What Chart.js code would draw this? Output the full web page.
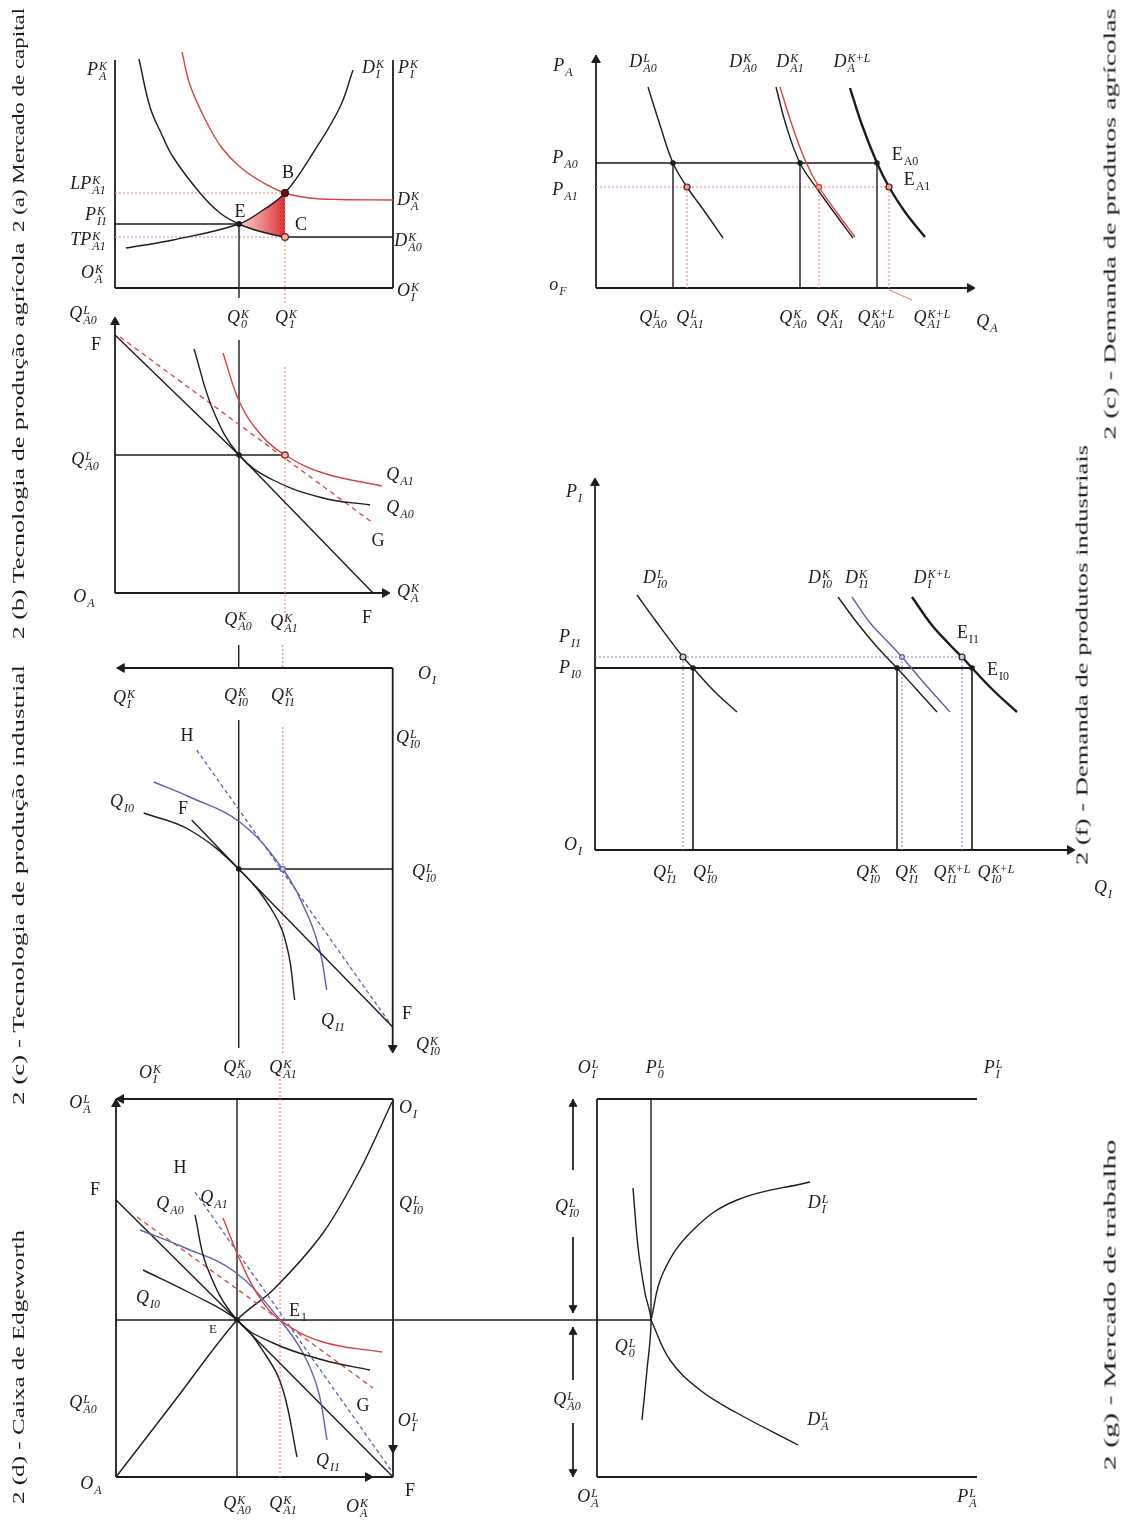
<!DOCTYPE html>
<html>
<head>
<meta charset="utf-8">
<script src="https://cdn.jsdelivr.net/npm/chart.js@4.4.1/dist/chart.umd.min.js"></script>
<style>
html, body { margin: 0; padding: 0; background: #fff; }
#page { position: relative; width: 1136px; height: 1521px; overflow: hidden; font-family: "Liberation Serif", "DejaVu Serif", serif; color: #1c1c1c; }
#page canvas { position: absolute; left: 0; top: 0; }
.lb { position: absolute; transform: translate(-50%, -50%); white-space: nowrap; font-size: 18px; line-height: 1; font-style: italic; }
.lb.r { font-style: normal; }
.ss { display: inline-flex; flex-direction: column; font-size: 12px; line-height: 10px; vertical-align: middle; margin-left: 1px; }
.side { position: absolute; white-space: nowrap; font-size: 17px; line-height: 1; }
</style>
</head>
<body>
<div id="page"></div>
<script>
// 2(a) capital market  (units: Q^K across, P^K up)
const capAxis = [27.8, 22.8];
const capA0 = [[2.4,22.9],[3.5,18.1],[4.7,15.3],[5.8,13.1],[8.5,9.5],[10.5,7.5],[12.4,6.4],[14.0,5.8],[15.5,5.4],[17.0,5.1]];
const capA0flat = [[17.0,5.1],[27.8,5.1]];
const capA1 = [[6.7,23.6],[7.5,20.3],[9.2,16.5],[10.7,14.0],[12.5,12.1],[14.7,10.6],[17.0,9.5],[19.5,9.0],[22.5,8.85],[27.8,8.8]];
const capI = [[1.1,4.0],[5.8,4.8],[12.4,6.4],[14.8,7.8],[17.0,9.5],[19.8,13.5],[22.5,18.1],[23.8,21.8]];
const capE = [12.4,6.4], capB = [17.0,9.5], capC = [17.0,5.1];

// 2(b) agricultural technology
const agrAxis = [27.5, 27.5];
const agrF = [[0,25.8],[12.4,13.8],[25.8,0]];
const agrG = [[0.5,25.6],[25.8,7.0]];
const agrQ0 = [[7.9,24.4],[9.8,18.3],[12.4,13.8],[15.8,11.3],[20.8,9.5],[25.5,8.8]];
const agrQ1 = [[10.8,24.0],[12.5,19.0],[14.7,15.7],[17.0,13.8],[20.8,12.0],[26.7,10.7]];
const agrE0 = [12.4,13.8], agrE1 = [17.0,13.8];

// 2(c) demand for agricultural products
const adAxis = [37.9, 23.3];
const adDL0 = [[5.2,20.1],[6.4,16.3],[7.7,12.5],[9.1,10.1],[10.9,7.6],[12.7,5.0]];
const adDK0 = [[18.0,20.1],[19.0,16.3],[20.4,12.5],[22.2,9.8],[24.0,7.3],[25.7,5.0]];
const adDK1 = [[18.4,20.1],[19.6,16.3],[20.9,12.8],[22.3,10.1],[24.2,7.4],[25.9,5.1]];
const adDKL = [[25.4,20.0],[26.6,16.3],[28.1,12.5],[29.3,10.1],[30.9,7.6],[32.9,5.1]];
const adP0 = 12.5, adP1 = 10.1;
const adQ0 = [7.7, 20.4, 28.1], adQ1 = [9.1, 22.3, 29.3];

// 2(f) demand for industrial products
const idAxis = [48, 37.2];
const idDL0 = [[4.2,25.5],[6.0,23.0],[8.8,19.3],[9.8,18.2],[12.0,15.8],[14.2,13.8]];
const idDK0 = [[24.3,25.3],[26.3,22.6],[28.3,20.2],[30.2,18.2],[32.2,16.0],[34.2,13.8]];
const idDK1 = [[25.7,25.3],[27.6,22.6],[29.5,20.6],[30.7,19.3],[33.0,16.6],[35.5,13.8]];
const idDKL = [[31.7,25.3],[33.6,22.6],[35.5,20.5],[36.7,19.3],[37.7,18.2],[39.9,15.9],[42.2,13.8]];
const idP0 = 18.2, idP1 = 19.3;
const idQ0 = [9.8, 30.2, 37.7], idQ1 = [8.8, 30.7, 36.7];

// 2(c) industrial technology (origin O_I top right, axes reversed)
const indAxis = [27.6, 38.5];
const indF = [[20.1,15.2],[15.4,20.1],[0,35.9]];
const indH = [[19.6,8.2],[0.3,35.5]];
const indQ0 = [[24.9,14.5],[20.3,16.2],[15.4,20.1],[11.9,24.5],[10.5,28.2],[9.8,33.2]];
const indQ1 = [[23.9,11.4],[20.3,12.9],[15.3,15.4],[11.0,20.1],[8.6,24.5],[7.3,28.2],[6.6,32.2]];
const indE0 = [15.4,20.1], indE1 = [11.0,20.1];

// 2(d) Edgeworth box
const edgAxis = [27.7, 37.8];
const edgContract = [[0,0],[5.7,7.4],[12.1,15.7],[15.7,18.7],[20.7,24.4],[24.4,30.7],[27.6,37.5]];
const edgF = [[0,27.7],[12.1,15.7],[27.7,0]];
const edgG = [[2.1,26.0],[16.4,15.7],[25.7,8.9]];
const edgH = [[7.9,28.5],[27.7,0.4]];
const edgQI1 = [[2.4,24.7],[6.7,23.0],[11.9,20.5],[16.4,15.7],[18.7,12.4],[20.2,8.7],[21.1,3.7]];
const edgQI0 = [[2.7,20.7],[7.4,18.4],[12.1,15.7],[15.1,12.0],[16.7,8.7],[18.1,2.0]];
const edgQA0 = [[7.9,26.2],[9.1,21.0],[12.1,15.7],[15.7,13.4],[20.7,11.7],[25.4,10.7]];
const edgQA1 = [[10.7,25.9],[12.4,21.7],[14.2,18.2],[16.4,15.7],[20.7,13.5],[26.6,12.5]];
const edgE = [12.1,15.7], edgE1 = [16.4,15.7];

// 2(g) labour market
const labAxis = [38, 37.8];
const labDI = [[5.4,15.7],[6.6,20.4],[9.6,24.7],[14.0,27.7],[21.3,29.5]];
const labDA = [[5.4,15.7],[7.3,11.7],[10.3,8.7],[14.0,6.4],[20.1,3.2]];
const labS = [[3.6,28.9],[4.1,23.0],[4.8,18.4],[5.4,15.7],[5.0,10.7],[4.5,5.7]];
const labE = [5.4,15.7];
const labArrowX = -2.4;
const labArrowSegs = [[37.8,30.7],[24.0,16.4],[15.0,9.7],[5.4,0]];
const labArrowHeads = [[37.3,0],[16.9,180],[14.5,0],[0.5,180]];

const W = 1136, H = 1521;
const BLACK = '#1c1c1c', RED = '#d9423c', RED_DOT = '#ee8478', BLUE = '#5a62b3', BLUE_DOT = '#7d84cc';
const page = document.getElementById('page');
const P = a => a.map(([x, y]) => ({x, y}));

function ln(pts, o) {
  return Object.assign({data: P(pts), showLine: true, borderColor: BLACK, borderWidth: 1.4,
    pointRadius: 0, tension: 0.4, fill: false, clip: false}, o || {});
}
function seg(a, b, o) { return ln([a, b], Object.assign({tension: 0}, o || {})); }
const redDot = {borderColor: RED_DOT, borderWidth: 1.1, borderDash: [2, 2]};
const blueDot = {borderColor: BLUE_DOT, borderWidth: 1.1, borderDash: [2, 2]};
const axisStyle = {borderWidth: 1.8};
function arrow(pt, rot, r) {
  return {data: P([pt]), showLine: false, pointStyle: 'triangle', rotation: rot, pointRadius: r || 5,
    pointBackgroundColor: BLACK, pointBorderColor: BLACK, pointBorderWidth: 1, clip: false};
}
function dot(pt, fillC, lineC, r) {
  return {data: P([pt]), showLine: false, pointRadius: r || 2.6, pointBackgroundColor: fillC || BLACK,
    pointBorderColor: lineC || BLACK, pointBorderWidth: 1.2, clip: false};
}

function panel(box, xr, yr, list, rx, ry) {
  const cv = document.createElement('canvas');
  cv.width = W; cv.height = H;
  page.appendChild(cv);
  list.forEach((d, i) => { d.order = -i; });
  new Chart(cv, {
    type: 'line',
    data: {datasets: list},
    options: {
      responsive: false, animation: false, events: [],
      layout: {padding: {left: box[0], top: box[1], right: W - box[2], bottom: H - box[3]}},
      scales: {
        x: {type: 'linear', display: false, min: xr[0], max: xr[1], reverse: !!rx},
        y: {type: 'linear', display: false, min: yr[0], max: yr[1], reverse: !!ry}
      },
      plugins: {legend: {display: false}, tooltip: {enabled: false}}
    }
  });
}

// ---------- 2(a)
const shadeTop = capI.slice(2, 5), shadeBot = capA0.slice(6);
panel([115, 60, 393, 288], [0, capAxis[0]], [0, capAxis[1]], [
  ln(shadeTop, {borderWidth: 0, fill: 1, backgroundColor: c => {
    const ch = c.chart;
    if (!ch.chartArea) return 'rgba(220,60,60,0.7)';
    const sx = ch.scales.x;
    const g = ch.ctx.createLinearGradient(sx.getPixelForValue(shadeTop[0][0]), 0, sx.getPixelForValue(shadeTop[shadeTop.length - 1][0]), 0);
    g.addColorStop(0, 'rgba(245,185,180,0.7)');
    g.addColorStop(1, 'rgba(215,35,40,0.95)');
    return g;
  }}),
  ln(shadeBot, {borderWidth: 0}),
  seg([0, 0], [0, capAxis[1]], axisStyle),
  seg([0, 0], [capAxis[0], 0], axisStyle),
  seg([capAxis[0], 0], [capAxis[0], capAxis[1]], axisStyle),
  seg([0, capB[1]], capB, redDot),
  seg([0, capC[1]], capC, redDot),
  seg(capB, [capB[0], -1.7], redDot),
  seg([0, capE[1]], capE),
  seg(capE, [capE[0], -1.0]),
  ln(capA0), seg(capA0flat[0], capA0flat[1]),
  ln(capA1, {borderColor: RED}),
  ln(capI),
  dot(capE, BLACK, BLACK, 2.4),
  dot(capB, '#6a1512', '#3a0a08', 3.4),
  dot(capC, '#f4b4a8', '#7a1a16', 3.4)
]);

// ---------- 2(b)
panel([115, 318, 390, 593], [0, agrAxis[0]], [0, agrAxis[1]], [
  seg([0, 0], [0, 27.1], axisStyle), arrow([0, 27.1], 0),
  seg([0, 0], [27.0, 0], axisStyle), arrow([27.0, 0], 90),
  seg([agrE0[0], 25.3], [agrE0[0], 0]),
  seg([0, agrE0[1]], agrE1),
  seg([agrE1[0], 22.6], [agrE1[0], -3.0], redDot),
  ln(agrF, {tension: 0}),
  ln(agrG, {tension: 0, borderColor: RED, borderDash: [5, 4], borderWidth: 1.3}),
  ln(agrQ0), ln(agrQ1, {borderColor: RED}),
  dot(agrE0, BLACK, BLACK, 2.2),
  dot(agrE1, '#f4b4a8', '#7a1a16', 3.2)
]);

// ---------- 2(c) demand, agriculture
panel([596, 55, 975, 288], [0, adAxis[0]], [0, adAxis[1]], [
  seg([0, 0], [0, 22.8], axisStyle), arrow([0, 22.8], 0),
  seg([0, 0], [37.4, 0], axisStyle), arrow([37.4, 0], 90),
  seg([0, adP0], [adQ0[2], adP0]),
  seg([0, adP1], [adQ1[2], adP1], redDot),
  ...adQ0.map(q => seg([q, adP0], [q, 0])),
  ...adQ1.map(q => seg([q, adP1], [q, 0], redDot)),
  seg([adQ1[2], -0.2], [31.6, -1.2], {borderColor: RED_DOT, borderWidth: 1.2}),
  ln(adDL0), ln(adDK0), ln(adDK1, {borderColor: RED}),
  ln(adDKL, {borderWidth: 2.4}),
  ...adQ0.map(q => dot([q, adP0], BLACK, BLACK, 2.2)),
  dot([adQ1[0], adP1], '#e8a090', '#5a1010', 3),
  dot([adQ1[1], adP1], '#f4b4a8', RED, 2.6),
  dot([adQ1[2], adP1], '#e8a090', '#5a1010', 3)
]);

// ---------- 2(f) demand, industry
panel([595, 478, 1075, 850], [0, idAxis[0]], [0, idAxis[1]], [
  seg([0, 0], [0, 36.7], axisStyle), arrow([0, 36.7], 0),
  seg([0, 0], [47.5, 0], axisStyle), arrow([47.5, 0], 90),
  seg([0, idP1], [idQ1[2], idP1], blueDot),
  ...idQ1.map(q => seg([q, idP1], [q, 0], blueDot)),
  seg([0, idP0], [idQ0[2], idP0], {borderWidth: 1.8}),
  ...idQ0.map(q => seg([q, idP0], [q, 0], {borderWidth: 1.6})),
  ln(idDL0), ln(idDK0), ln(idDK1, {borderColor: BLUE}),
  ln(idDKL, {borderWidth: 2.4}),
  ...idQ0.map(q => dot([q, idP0], BLACK, BLACK, 2.2)),
  dot([idQ1[0], idP1], '#c8c8e0', BLACK, 3),
  dot([idQ1[1], idP1], '#c8c8e8', BLUE, 2.4),
  dot([idQ1[2], idP1], '#c8c8e0', BLACK, 3)
]);

// ---------- 2(c) industrial technology
panel([116.7, 668, 392.7, 1053], [0, indAxis[0]], [0, indAxis[1]], [
  seg([0, 0], [27.1, 0], axisStyle), arrow([27.1, 0], 270),
  seg([0, 0], [0, 38.0], axisStyle), arrow([0, 38.0], 180),
  seg([indE0[0], -2.3], [indE0[0], 0]),
  seg([indE0[0], 5.2], [indE0[0], 38.0]),
  seg([indE1[0], -2.3], [indE1[0], 0], redDot),
  seg([indE1[0], 5.9], [indE1[0], 38.5], redDot),
  seg(indE0, [0, indE0[1]]),
  ln(indH, {tension: 0, borderColor: BLUE, borderDash: [4, 3], borderWidth: 1.3}),
  ln(indQ1, {borderColor: BLUE}),
  ln(indQ0),
  ln(indF, {tension: 0}),
  dot(indE0, BLACK, BLACK, 2.2),
  dot(indE1, '#c8c8e8', BLUE, 2.6)
], true, true);

// ---------- 2(d) Edgeworth box
panel([116, 1099, 393, 1477], [0, edgAxis[0]], [0, edgAxis[1]], [
  seg([0, 0], [0, edgAxis[1]], axisStyle),
  seg([0, edgAxis[1]], [edgAxis[0], edgAxis[1]], axisStyle),
  seg([edgAxis[0], edgAxis[1]], [edgAxis[0], 0], axisStyle),
  seg([0, 0], [edgAxis[0], 0], axisStyle),
  arrow([0, 37.3], 0), arrow([0.5, edgAxis[1]], 270),
  arrow([25.2, 0], 90), arrow([edgAxis[0], 2.9], 180),
  seg([edgE[0], 0], [edgE[0], edgAxis[1]]),
  seg([edgE1[0], 0], [edgE1[0], 41.7], redDot),
  seg([0, edgE[1]], [48.1, edgE[1]]),
  ln(edgContract, {tension: 0.3}),
  ln(edgF, {tension: 0}),
  ln(edgG, {tension: 0, borderColor: RED, borderDash: [5, 4], borderWidth: 1.3}),
  ln(edgH, {tension: 0, borderColor: BLUE, borderDash: [4, 3], borderWidth: 1.3}),
  ln(edgQI1, {borderColor: BLUE}),
  ln(edgQI0), ln(edgQA0),
  ln(edgQA1, {borderColor: RED}),
  dot(edgE, BLACK, BLACK, 2.2)
]);

// ---------- 2(g) labour market (x range starts below 0 so the side arrows sit inside the area)
panel([567, 1099, 977, 1477], [-3, labAxis[0]], [0, labAxis[1]], [
  seg([0, 0], [0, labAxis[1]], axisStyle),
  seg([0, labAxis[1]], [labAxis[0], labAxis[1]], axisStyle),
  seg([0, 0], [labAxis[0], 0], axisStyle),
  seg(labE, [labE[0], labAxis[1]]),
  seg([0, labE[1]], labE),
  ...labArrowSegs.map(s => seg([labArrowX, s[0]], [labArrowX, s[1]], {borderWidth: 1})),
  ...labArrowHeads.map(h => arrow([labArrowX, h[0]], h[1], 4.5)),
  ln(labDI), ln(labDA), ln(labS, {tension: 0.3})
]);

// ---------- labels (page positions)
const labelsCap = [['P^K_A',97,70],['D^K_I',373,68],['P^K_I',408,68],['LP^K_A1',88,184],['D^K_A',408,200],
  ['P^K_I1',96,215],['TP^K_A1',88,240],['D^K_A0',408,241],['O^K_A',92,273],['O^K_I',408,291],
  ['B',288,172],['E',240,211],['C',301,224],['Q^K_0',238,318],['Q^K_1',286,318]];
const labelsAgr = [['Q^L_A0',83,314],['F',96,344],['Q^L_A0',85,460],['O_A',84,597],['Q^K_A0',238,620],
  ['Q^K_A1',284,622],['F',367,617],['Q^K_A',408,592],['Q_A1',400,475],['Q_A0',400,508],['G',378,540]];
const labelsAgrDem = [['P_A',563,66],['D^L_A0',643,62],['D^K_A0',743,62],['D^K_A1',790,62],['D^K+L_A',852,62],
  ['P_A0',565,158],['P_A1',565,190],['E_A0',905,155],['E_A1',917,180],['o_F',558,285],
  ['Q^L_A0',653,318],['Q^L_A1',690,318],['Q^K_A0',793,318],['Q^K_A1',830,318],['Q^K+L_A0',876,318],
  ['Q^K+L_A1',932,318],['Q_A',987,322]];
const labelsIndDem = [['P_I',574,492],['D^L_I0',655,578],['D^K_I0',820,578],['D^K_I1',857,578],['D^K+L_I',932,578],
  ['P_I1',570,637],['P_I0',570,668],['E_I1',968,633],['E_I0',998,670],['O_I',573,845],
  ['Q^L_I1',665,873],['Q^L_I0',705,873],['Q^K_I0',868,873],['Q^K_I1',907,873],['Q^K+L_I1',952,873],
  ['Q^K+L_I0',996,873],['Q_I',1103,888]];
const labelsInd = [['Q^K_I',124,698],['Q^K_I0',236,696],['Q^K_I1',283,696],['O_I',427,674],['Q^L_I0',408,738],
  ['H',187,735],['Q_I0',122,802],['F',183,808],['Q^L_I0',424,872],['Q_I1',333,1021],['F',407,1013],
  ['Q^K_I0',428,1045],['Q^K_A0',237,1068],['Q^K_A1',283,1068],['O^K_I',150,1073]];
const labelsEdg = [['O^L_A',80,1103],['O_I',408,1108],['H',180,1167],['F',95,1189],['Q_A0',170,1204],
  ['Q_A1',214,1198],['Q^L_I0',411,1204],['Q_I0',148,1298],['E',213,1328,13],['E_1',298,1311],
  ['Q^L_A0',83,1403],['G',363,1405],['O^L_I',408,1421],['Q_I1',328,1461],['O_A',91,1484],
  ['Q^K_A0',237,1504],['Q^K_A1',283,1504],['O^K_A',357,1507],['F',410,1490]];
const labelsLab = [['O^L_I',588,1068],['P^L_0',655,1068],['P^L_I',993,1068],['Q^L_I0',567,1207],
  ['D^L_I',818,1203],['Q^L_0',625,1347],['Q^L_A0',567,1400],['D^L_A',818,1420],['O^L_A',588,1497],['P^L_A',967,1497]];
const sideTexts = [['2 (a) Mercado de capital',18,120,224],['2 (b) Tecnologia de produção agrícola',18,441,397],
  ['2 (c) - Tecnologia de produção industrial',18,885,440],['2 (d) - Caixa de Edgeworth',18,1367,275],
  ['2 (c) - Demanda de produtos agrícolas',1110,224,432],['2 (f) - Demanda de produtos industriais',1082,655,420],
  ['2 (g) - Mercado de trabalho',1110,1305,330]];

const ROMAN = new Set(['B','C','E','F','G','H']);
[].concat(labelsCap, labelsAgr, labelsAgrDem, labelsIndDem, labelsInd, labelsEdg, labelsLab).forEach(([s, x, y, fs]) => {
  const m = s.match(/^([^_^]+)(?:\^([^_]*))?(?:_(.*))?$/);
  const main = m[1], sup = m[2] || '', sub = m[3] || '';
  const d = document.createElement('div');
  d.className = 'lb' + (ROMAN.has(main) ? ' r' : '');
  let h = '<span>' + main + '</span>';
  if (sup || sub) h += '<span class="ss"><span>' + (sup || '&nbsp;') + '</span><span>' + (sub || '&nbsp;') + '</span></span>';
  d.innerHTML = h;
  d.style.left = x + 'px'; d.style.top = y + 'px';
  if (fs) d.style.fontSize = fs + 'px';
  page.appendChild(d);
});

sideTexts.forEach(([t, cx, cy, len]) => {
  const d = document.createElement('div');
  d.className = 'side';
  d.textContent = t;
  page.appendChild(d);
  const w = d.offsetWidth;
  d.style.left = cx + 'px'; d.style.top = cy + 'px';
  d.style.transform = 'translate(-50%,-50%) rotate(-90deg) scaleX(' + (len / w).toFixed(3) + ')';
});
</script>
</body>
</html>
